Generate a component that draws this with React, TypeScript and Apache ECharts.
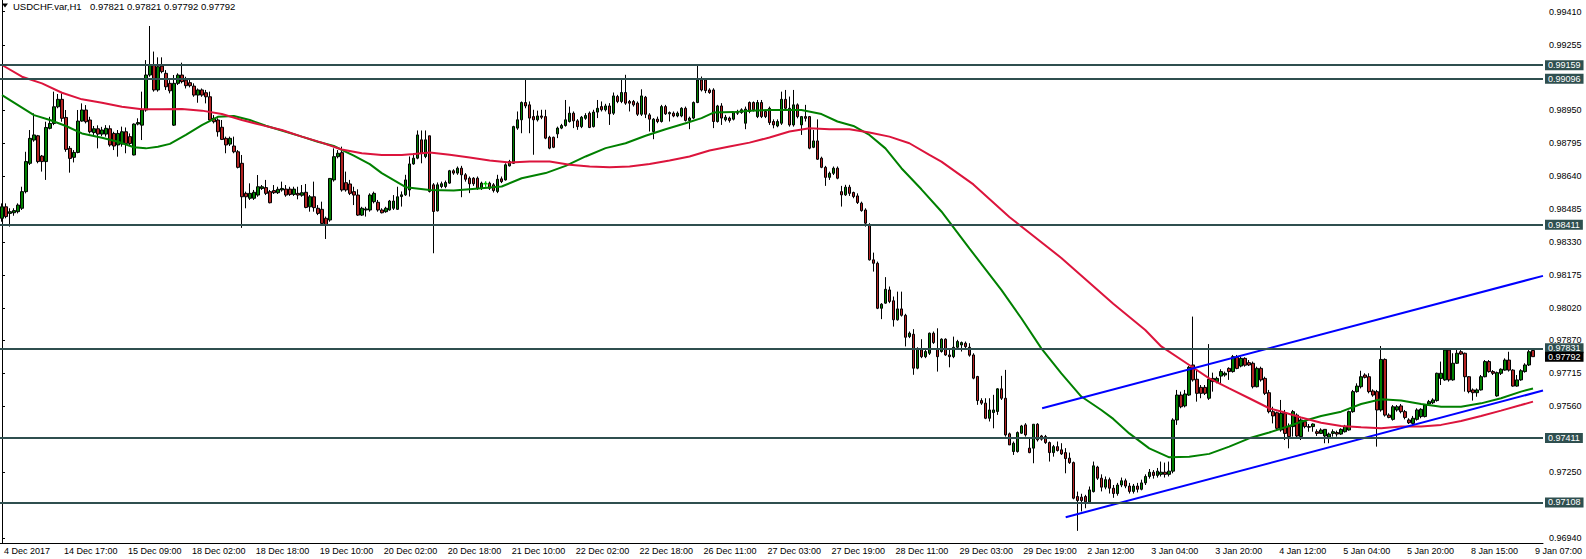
import React, { useEffect, useRef } from "react";
import * as echarts from "echarts";

const FONT = "'Liberation Sans', Arial, sans-serif";

// x-axis labels: one every 16 bars, starting at bar 15
const timeLabels = [
  "14 Dec 17:00", "15 Dec 09:00", "18 Dec 02:00", "18 Dec 18:00", "19 Dec 10:00", "20 Dec 02:00",
  "20 Dec 18:00", "21 Dec 10:00", "22 Dec 02:00", "22 Dec 18:00", "26 Dec 11:00", "27 Dec 03:00",
  "27 Dec 19:00", "28 Dec 11:00", "29 Dec 03:00", "29 Dec 19:00", "2 Jan 12:00", "3 Jan 04:00",
  "3 Jan 20:00", "4 Jan 12:00", "5 Jan 04:00", "5 Jan 20:00", "8 Jan 15:00", "9 Jan 07:00",
];
const firstLabel = "4 Dec 2017";
const TICK0 = 15;
const TICK_STEP = 16;
const N_CAT = 386; // 384 bars + 2 empty slots at the right

const yTickValues = [0.9941, 0.99255, 0.9895, 0.98795, 0.9864, 0.98485, 0.9833, 0.98175, 0.9802, 0.9787, 0.97715, 0.9756, 0.9725, 0.9694];
const levelLines = [0.99159, 0.99096, 0.98411, 0.97831, 0.97411, 0.97108];
const currentPrice = 0.97792;
const headerSymbol = "USDCHF.var,H1";
const headerOHLC = ["0.97821", "0.97821", "0.97792", "0.97792"];
const Y_MIN = 0.96918;
const Y_MAX = 0.994649;
// small lime trade marker seen on the chart: [bar index, price x 1e5]
const markerPoints = [[121, 98602]];

// [open, close, low, high] in 1e-5 units
const ohlc = [
[98441,98495,98425,98511],[98495,98449,98441,98511],[98464,98472,98402,98488],[98467,98477,98453,98488],[98472,98503,98464,98511],
[98488,98566,98480,98589],[98566,98707,98558,98753],[98699,98816,98691,98855],[98808,98832,98800,98933],[98828,98707,98699,98832],
[98733,98707,98660,98738],[98707,98867,98621,98894],[98863,98886,98858,98917],[98886,98964,98878,99035],[98964,98999,98957,99024],
[98999,98910,98894,99027],[98914,98764,98753,98949],[98769,98722,98655,98780],[98727,98750,98703,98761],[98750,98897,98746,98949],
[98897,98949,98894,98980],[98949,98894,98886,98972],[98902,98847,98839,98917],[98843,98861,98832,98874],[98861,98836,98769,98877],
[98836,98855,98826,98870],[98836,98863,98824,98878],[98861,98785,98777,98877],[98839,98780,98761,98847],[98785,98839,98730,98855],
[98789,98847,98777,98871],[98847,98792,98746,98867],[98824,98792,98780,98839],[98738,98883,98736,98886],[98883,98890,98877,98910],
[98878,98949,98808,99035],[98949,99113,98941,99183],[99113,99160,99105,99343],[99160,99043,99035,99223],[99043,99152,99035,99196],
[99155,99129,99121,99196],[99121,99058,99043,99136],[99074,99039,99027,99089],[98878,99074,98874,99113],[99074,99113,99066,99121],
[99113,99082,99074,99171],[99089,99063,99050,99105],[99077,99063,99055,99093],[99061,99019,99011,99074],[99019,99043,98983,99050],
[99043,99019,99011,99050],[99030,99011,98980,99043],[99011,98902,98894,99035],[98910,98894,98886,98925],[98902,98847,98824,98910],
[98868,98811,98808,98902],[98816,98785,98746,98824],[98789,98816,98780,98824],[98780,98753,98746,98824],[98753,98680,98675,98761],
[98699,98542,98396,98738],[98558,98542,98488,98566],[98535,98558,98527,98605],[98535,98563,98527,98574],[98550,98589,98542,98644],
[98581,98589,98574,98597],[98585,98558,98550,98621],[98566,98514,98511,98574],[98571,98561,98555,98597],[98561,98577,98555,98589],
[98574,98581,98566,98613],[98578,98550,98542,98597],[98578,98553,98546,98589],[98553,98578,98546,98589],[98558,98550,98530,98589],
[98549,98561,98542,98597],[98563,98492,98488,98602],[98495,98542,98472,98550],[98542,98491,98472,98613],[98488,98464,98456,98503],
[98483,98417,98410,98519],[98441,98410,98344,98449],[98433,98628,98425,98628],[98621,98730,98613,98769],[98730,98746,98722,98761],
[98749,98574,98566,98777],[98608,98574,98566,98660],[98602,98558,98550,98621],[98566,98550,98503,98589],[98550,98456,98452,98577],
[98456,98488,98452,98495],[98480,98485,98449,98495],[98480,98550,98472,98558],[98519,98558,98511,98566],[98516,98480,98472,98527],
[98480,98467,98464,98488],[98472,98488,98467,98495],[98480,98522,98477,98527],[98488,98522,98480,98550],[98483,98542,98480,98589],
[98543,98551,98496,98567],[98551,98621,98546,98645],[98574,98696,98543,98731],[98696,98723,98692,98746],[98723,98832,98718,98853],
[98809,98746,98699,98853],[98731,98809,98723,98853],[98828,98567,98562,98828],[98598,98473,98277,98606],[98476,98598,98473,98609],
[98590,98603,98582,98613],[98590,98609,98582,98618],[98606,98664,98603,98668],[98664,98653,98645,98671],[98653,98676,98645,98684],
[98676,98645,98540,98687],[98645,98624,98613,98653],[98629,98603,98559,98637],[98629,98603,98593,98634],[98629,98582,98574,98637],
[98582,98606,98574,98613],[98603,98606,98590,98613],[98606,98582,98574,98613],[98598,98571,98562,98606],[98567,98624,98559,98645],
[98626,98613,98606,98637],[98621,98692,98618,98699],[98687,98707,98684,98715],[98699,98871,98696,98875],[98864,98903,98856,98942],
[98903,98984,98840,98989],[98984,98968,98957,99098],[98973,98911,98840,98989],[98918,98903,98739,98950],[98903,98921,98895,98946],
[98921,98915,98906,98950],[98918,98817,98812,98950],[98821,98770,98765,98828],[98821,98774,98770,98824],[98837,98864,98817,98871],
[98864,98876,98859,98884],[98876,98903,98871,98996],[98895,98934,98890,98965],[98934,98898,98864,98942],[98898,98871,98856,98906],
[98871,98915,98864,98921],[98910,98923,98903,98934],[98934,98867,98864,98942],[98871,98939,98867,98950],[98939,98957,98911,98996],
[98965,98950,98942,98989],[98950,98968,98942,98978],[98968,98931,98879,98981],[98934,99015,98926,99031],[99012,98989,98981,99020],
[98989,99031,98981,99098],[99031,98981,98973,99114],[98989,98981,98942,98996],[98989,98973,98965,98996],[98981,98929,98921,98989],
[98929,99015,98921,99046],[99009,98929,98911,99015],[98926,98906,98848,98934],[98848,98906,98812,98911],[98906,98895,98887,98918],
[98895,98965,98890,98973],[98965,98931,98926,98973],[98931,98937,98895,98942],[98934,98921,98915,98942],[98921,98934,98915,98942],
[98921,98957,98915,98962],[98957,98900,98895,98965],[98900,98911,98859,98918],[98911,98984,98906,98989],[98984,99090,98981,99156],
[99090,99043,99036,99106],[99090,99040,99028,99098],[99043,99031,99025,99051],[99043,98895,98864,99051],[98895,98968,98890,98973],
[98968,98911,98879,98981],[98903,98915,98895,98926],[98911,98900,98890,98918],[98906,98937,98900,98942],[98934,98937,98926,98950],
[98937,98950,98931,98957],[98887,98953,98859,98965],[98984,98942,98934,98989],[98984,98950,98942,98989],[98918,98984,98911,98996],
[98984,98918,98911,98996],[98942,98918,98911,98950],[98957,98890,98879,98965],[98895,98879,98863,98905],[98874,98895,98868,98905],
[98887,98999,98879,99035],[98999,98957,98949,99043],[98957,98879,98871,99012],[98879,98973,98871,99043],[98973,98918,98910,98980],
[98879,98918,98832,98921],[98918,98910,98895,98973],[98918,98770,98765,98921],[98774,98804,98770,98855],[98804,98718,98715,98905],
[98723,98680,98676,98730],[98680,98633,98593,98687],[98633,98652,98621,98660],[98652,98676,98644,98684],[98676,98629,98624,98684],
[98566,98551,98496,98593],[98551,98587,98546,98598],[98587,98558,98546,98598],[98562,98543,98535,98566],[98546,98515,98508,98558],
[98512,98477,98472,98519],[98480,98418,98402,98488],[98410,98246,98243,98418],[98246,98230,98191,98280],[98230,98019,98015,98238],
[98019,98038,97968,98043],[98043,98108,98040,98165],[98105,98051,98043,98121],[98054,97965,97933,98074],[97965,98016,97961,98097],
[98016,97986,97980,98097],[97986,97883,97840,97993],[97886,97902,97879,97910],[97897,97738,97707,97921],[97738,97827,97733,97836],
[97824,97792,97785,97874],[97792,97816,97785,97824],[97808,97902,97800,97905],[97902,97858,97852,97910],[97827,97792,97722,97925],
[97816,97874,97811,97878],[97874,97800,97796,97878],[97800,97792,97742,97824],[97792,97836,97785,97886],[97836,97863,97827,97871],
[97847,97858,97816,97863],[97855,97839,97832,97863],[97836,97799,97792,97855],[97800,97691,97686,97808],[97699,97586,97566,97702],
[97586,97574,97566,97597],[97574,97503,97499,97597],[97503,97542,97488,97597],[97530,97542,97456,97613],[97535,97641,97519,97644],
[97641,97597,97589,97702],[97597,97425,97417,97730],[97430,97378,97378,97436],[97347,97386,97331,97394],[97347,97436,97342,97441],
[97433,97467,97430,97472],[97472,97425,97417,97480],[97363,97342,97339,97410],[97363,97475,97292,97475],[97475,97402,97394,97480],
[97420,97405,97398,97425],[97417,97389,97383,97425],[97389,97342,97300,97394],[97342,97370,97323,97378],[97370,97352,97347,97394],
[97355,97336,97331,97386],[97342,97314,97245,97363],[97316,97295,97289,97342],[97295,97128,97123,97300],[97136,97117,96975,97159],
[97133,97117,97066,97149],[97136,97111,97081,97144],[97111,97167,97105,97183],[97159,97280,97155,97300],[97274,97222,97214,97280],
[97222,97180,97160,97240],[97180,97215,97170,97230],[97215,97175,97150,97225],[97175,97150,97130,97190],[97150,97190,97140,97200],
[97190,97210,97180,97225],[97210,97185,97175,97220],[97185,97160,97150,97200],[97160,97185,97150,97195],[97185,97170,97155,97200],
[97170,97200,97165,97215],[97200,97230,97190,97240],[97230,97250,97220,97265],[97250,97235,97220,97260],[97235,97255,97225,97270],
[97240,97250,97230,97300],[97250,97240,97225,97295],[97240,97255,97230,97300],[97255,97495,97245,97503],[97495,97612,97472,97636],
[97612,97557,97550,97628],[97561,97617,97554,97636],[97612,97742,97608,97748],[97753,97683,97675,97980],[97686,97620,97581,97729],
[97648,97620,97597,97659],[97648,97620,97612,97659],[97597,97686,97589,97851],[97675,97690,97628,97717],[97675,97690,97667,97698],
[97701,97722,97659,97733],[97706,97714,97698,97722],[97737,97722,97683,97742],[97722,97792,97717,97800],[97789,97737,97733,97800],
[97748,97784,97742,97792],[97784,97752,97745,97789],[97764,97753,97748,97776],[97761,97651,97643,97769],[97651,97737,97648,97745],
[97737,97683,97675,97745],[97690,97620,97612,97698],[97623,97534,97526,97636],[97534,97514,97479,97557],[97529,97456,97448,97534],
[97448,97526,97440,97589],[97526,97432,97401,97542],[97464,97417,97362,97479],[97464,97534,97417,97542],[97518,97420,97414,97526],
[97417,97495,97401,97503],[97487,97464,97456,97495],[97464,97461,97440,97476],[97464,97476,97440,97479],[97440,97432,97420,97451],
[97432,97448,97429,97456],[97420,97451,97386,97451],[97414,97429,97386,97436],[97432,97440,97417,97451],[97436,97429,97417,97445],
[97429,97451,97425,97456],[97440,97464,97436,97472],[97448,97534,97445,97539],[97534,97628,97529,97636],[97628,97654,97623,97667],
[97651,97698,97643,97726],[97706,97695,97690,97714],[97698,97628,97620,97714],[97631,97612,97604,97639],[97628,97542,97370,97636],
[97542,97779,97534,97842],[97779,97518,97511,97784],[97518,97507,97503,97526],[97498,97557,97492,97565],[97542,97557,97534,97565],
[97561,97534,97526,97570],[97534,97507,97498,97542],[97495,97482,97476,97503],[97479,97503,97472,97514],[97498,97542,97492,97550],
[97511,97545,97503,97550],[97511,97565,97507,97570],[97570,97581,97565,97589],[97576,97589,97570,97597],[97586,97714,97581,97717],
[97690,97714,97659,97769],[97683,97823,97679,97831],[97823,97683,97675,97831],[97683,97761,97679,97808],[97761,97808,97758,97831],
[97815,97804,97800,97823],[97808,97698,97628,97811],[97698,97628,97620,97701],[97636,97623,97586,97643],[97623,97636,97604,97643],
[97636,97698,97633,97706],[97698,97769,97695,97776],[97769,97722,97717,97776],[97722,97714,97706,97729],[97608,97717,97604,97722],
[97714,97733,97706,97737],[97729,97776,97726,97784],[97776,97729,97722,97815],[97729,97654,97651,97733],[97654,97683,97651,97706],
[97683,97726,97679,97733],[97722,97753,97717,97761],[97753,97815,97748,97823],[97821,97792,97792,97821],
];

// moving averages: [bar index, price x 1e5]
const maFast = [
[0,99019],[8,98925],[12,98902],[16,98874],[20,98839],[25,98819],[29,98800],[33,98774],[36,98769],[39,98777],[42,98790],
[46,98832],[50,98878],[54,98917],[58,98921],[62,98902],[66,98875],[71,98847],[75,98824],[79,98800],[83,98780],[88,98735],
[92,98695],[95,98653],[101,98587],[107,98574],[113,98571],[120,98582],[125,98590],[130,98629],[136,98653],[141,98687],
[146,98731],[151,98770],[156,98793],[161,98828],[166,98859],[171,98887],[175,98911],[178,98937],[183,98939],[187,98946],
[192,98949],[200,98949],[205,98930],[209,98895],[213,98874],[217,98832],[221,98769],[225,98676],[230,98577],[235,98473],
[242,98300],[250,98105],[255,97972],[260,97831],[265,97714],[270,97605],[275,97542],[278,97500],[282,97432],[287,97362],
[292,97320],[297,97323],[302,97336],[307,97370],[312,97409],[317,97436],[322,97467],[325,97487],[330,97514],[335,97534],
[340,97570],[345,97592],[350,97586],[355,97570],[360,97557],[365,97557],[370,97573],[375,97597],[380,97628],[383,97643],
];
const maSlow = [
[0,99160],[5,99105],[10,99074],[15,99030],[20,98999],[25,98983],[30,98964],[35,98952],[40,98952],[45,98954],[50,98946],
[55,98930],[60,98902],[65,98878],[70,98855],[75,98824],[80,98796],[85,98764],[90,98746],[95,98738],[100,98738],[103,98743],
[107,98750],[112,98739],[117,98726],[122,98712],[127,98703],[132,98707],[137,98707],[142,98692],[147,98684],[152,98681],
[157,98684],[162,98696],[167,98712],[172,98731],[177,98759],[182,98778],[187,98796],[192,98820],[197,98848],[202,98863],
[207,98859],[212,98859],[217,98843],[222,98824],[227,98793],[232,98738],[235,98707],[243,98600],[252,98447],[265,98255],
[278,98040],[286,97917],[290,97840],[297,97753],[302,97690],[307,97643],[312,97597],[317,97550],[320,97535],[325,97507],
[330,97482],[335,97467],[340,97461],[345,97456],[350,97464],[355,97464],[360,97472],[365,97490],[370,97514],[375,97539],
[380,97565],[383,97581],
];
const channelUpper = [[260.2, 97550], [385.5, 98171]];
const channelLower = [[266.1, 97039], [385.5, 97633]];

const toPrice = (v: number) => v / 100000;

export default function App() {
  const ref = useRef<HTMLDivElement>(null);

  useEffect(() => {
    if (!ref.current) return;
    const chart = echarts.init(ref.current, undefined, { renderer: "svg" });
    const categories = Array.from({ length: N_CAT }, (_, i) => String(i));
    const isTick = (idx: number) =>
      idx >= TICK0 && (idx - TICK0) % TICK_STEP === 0 && (idx - TICK0) / TICK_STEP < timeLabels.length;

    const labelBase = {
      show: true,
      position: "end",
      distance: 2,
      formatter: (p: any) => Number(p.value).toFixed(5),
      color: "#ffffff",
      padding: [1, 3, 0, 3],
      fontSize: 9,
      lineHeight: 9,
      fontFamily: FONT,
    };

    const lineSeries = (name: string, pts: number[][], color: string) => ({
      name,
      type: "line",
      xAxisIndex: 1,
      yAxisIndex: 0,
      data: pts.map((p) => [p[0], toPrice(p[1])]),
      showSymbol: false,
      symbol: "none",
      silent: true,
      lineStyle: { color, width: 2 },
      z: 3,
    });

    chart.setOption({
      animation: false,
      backgroundColor: "#ffffff",
      textStyle: { fontFamily: FONT },
      grid: { left: -1, top: 0, width: N_CAT * 4, bottom: 16 },
      xAxis: [
        {
          type: "category",
          data: categories,
          boundaryGap: true,
          axisLine: { onZero: false, lineStyle: { color: "#000000", width: 1 } },
          axisTick: {
            alignWithLabel: true,
            interval: (idx: number) => isTick(idx),
            length: 5,
            lineStyle: { color: "#000000" },
          },
          axisLabel: {
            interval: (idx: number) => idx === 0 || isTick(idx),
            formatter: (_v: string, idx: number) =>
              idx === 0 ? firstLabel : timeLabels[(idx - TICK0) / TICK_STEP],
            align: "left",
            padding: [0, 0, 0, 2],
            margin: 3,
            color: "#000000",
            fontSize: 9,
            fontFamily: FONT,
          },
          splitLine: { show: false },
        },
        { type: "value", min: -0.5, max: N_CAT - 0.5, show: false },
      ],
      yAxis: {
        type: "value",
        position: "right",
        min: Y_MIN,
        max: Y_MAX,
        scale: true,
        splitLine: { show: false },
        axisLine: { show: true, lineStyle: { color: "#000000", width: 1 } },
        axisTick: { show: true, customValues: yTickValues, length: 3, lineStyle: { color: "#000000" } },
        axisLabel: {
          customValues: yTickValues,
          formatter: (v: number) => v.toFixed(5),
          margin: 6,
          color: "#000000",
          fontSize: 9,
          fontFamily: FONT,
        },
      },
      series: [
        {
          name: "USDCHF",
          type: "candlestick",
          xAxisIndex: 0,
          yAxisIndex: 0,
          barWidth: 3,
          data: ohlc.map((r) => r.map(toPrice)),
          itemStyle: {
            color: "#008000",
            color0: "#B22222",
            borderColor: "#000000",
            borderColor0: "#000000",
            borderColorDoji: "#000000",
            borderWidth: 1,
          },
          markLine: {
            silent: true,
            precision: 5,
            symbol: ["none", "none"],
            animation: false,
            lineStyle: { color: "#2F4F4F", width: 2, type: "solid" },
            label: { ...labelBase, backgroundColor: "#2F4F4F" },
            data: levelLines.map((v) => ({ yAxis: v })),
          },
        },
        {
          name: "Bid",
          type: "line",
          data: [],
          silent: true,
          markLine: {
            silent: true,
            precision: 5,
            symbol: ["none", "none"],
            animation: false,
            lineStyle: { color: "rgba(0,0,0,0)", width: 1 },
            label: { ...labelBase, backgroundColor: "#000000" },
            data: [{ yAxis: currentPrice }],
          },
          z: 4,
        },
        lineSeries("MA fast", maFast, "#008000"),
        lineSeries("MA slow", maSlow, "#DC143C"),
        lineSeries("Channel upper", channelUpper, "#0000FF"),
        lineSeries("Channel lower", channelLower, "#0000FF"),
        {
          name: "Marker",
          type: "scatter",
          xAxisIndex: 1,
          yAxisIndex: 0,
          silent: true,
          symbol: "path://M2,0h1v2h2v1h-2v2h-1v-2h-2v-1h2z",
          symbolSize: 6,
          itemStyle: { color: "#00FF00" },
          data: markerPoints.map((p) => [p[0], toPrice(p[1])]),
          z: 4,
        },
      ],
      graphic: [
        { type: "polygon", shape: { points: [[2, 3.5], [8, 3.5], [5, 7.5]] }, style: { fill: "#000000" } },
        {
          type: "text", x: 13, y: 6,
          style: { text: headerSymbol, fill: "#000000", font: `9.5px ${FONT}`, verticalAlign: "middle" },
        },
        {
          type: "text", x: 90, y: 6,
          style: { text: headerOHLC.join(" "), fill: "#000000", font: `9.5px ${FONT}`, verticalAlign: "middle" },
        },
      ],
    });
    return () => chart.dispose();
  }, []);

  return (
    <div
      ref={ref}
      style={{ position: "fixed", left: 0, top: 0, width: 1586, height: 559, background: "#ffffff" }}
    />
  );
}
